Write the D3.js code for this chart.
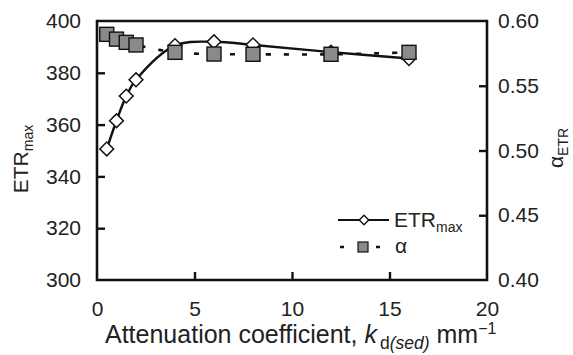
<!DOCTYPE html>
<html>
<head>
<meta charset="utf-8">
<script src="https://cdn.jsdelivr.net/npm/d3@7"></script>
<style>
  body { margin: 0; background: #fff; }
  svg text { font-family: "Liberation Sans", Arial, sans-serif; fill: #222; }
</style>
</head>
<body>
<svg id="chart" width="573" height="355"></svg>
<script>
// attenuation coefficient (x) for every sample
const kd = [0.5, 1, 1.5, 2, 4, 6, 8, 12, 16];
// ETRmax values (left axis)
const etrMax = [350.6, 361.5, 371.0, 377.3, 390.5, 392.0, 390.8, 388.0, 385.5];
// alpha values (right axis)
const alpha = [0.5897, 0.5860, 0.5835, 0.5815, 0.5758, 0.5745, 0.5743, 0.5743, 0.5758];

const xTicks = [0, 5, 10, 15, 20];
const yLeftTicks = [300, 320, 340, 360, 380, 400];
const yRightTicks = [0.40, 0.45, 0.50, 0.55, 0.60];

var svg = d3.select("#chart"),
    margin = {top: 21, right: 86, bottom: 75, left: 97},
    width = +svg.attr("width"),
    height = +svg.attr("height");

var x = d3.scaleLinear().domain([0, 20]).range([margin.left, width - margin.right]);
var yL = d3.scaleLinear().domain([300, 400]).range([height - margin.bottom, margin.top]);
var yR = d3.scaleLinear().domain([0.40, 0.60]).range([height - margin.bottom, margin.top]);

var etrData = kd.map((k, i) => ({k: k, v: etrMax[i]}));
var alphaData = kd.map((k, i) => ({k: k, v: alpha[i]}));

// frame lines (top, left, right, bottom)
var x0 = x(0), x1 = x(20), y0 = yL(300), y1 = yL(400);
svg.append("path")
    .attr("d", `M${x0},${y0}V${y1}H${x1}V${y0}Z`)
    .attr("fill", "none")
    .attr("stroke", "#111")
    .attr("stroke-width", 2.6);

function fmtAxis(g) {
    g.select(".domain").remove();
    g.selectAll(".tick line").attr("stroke", "#111").attr("stroke-width", 2.4);
    g.selectAll(".tick text").attr("font-size", 21).attr("fill", "#222");
}

svg.append("g")
    .attr("transform", "translate(0," + y0 + ")")
    .call(d3.axisBottom(x).tickValues(xTicks).tickSize(-8).tickPadding(21).tickFormat(d3.format("d")))
    .call(fmtAxis)
    .call(g => g.selectAll(".tick").filter(d => d === 0 || d === 20).select("line").remove());

svg.append("g")
    .attr("transform", "translate(" + x0 + ",0)")
    .call(d3.axisLeft(yL).tickValues(yLeftTicks).tickSize(-8).tickPadding(16).tickFormat(d3.format("d")))
    .call(fmtAxis)
    .call(g => g.selectAll(".tick").filter(d => d === 300 || d === 400).select("line").remove());

svg.append("g")
    .attr("transform", "translate(" + x1 + ",0)")
    .call(d3.axisRight(yR).tickValues(yRightTicks).tickSize(-8).tickPadding(11).tickFormat(d3.format(".2f")))
    .call(fmtAxis)
    .call(g => g.selectAll(".tick").filter(d => d === 0.40 || d === 0.60).select("line").remove());

// ETRmax curve
var lineL = d3.line().curve(d3.curveCatmullRom.alpha(0.5)).x(d => x(d.k)).y(d => yL(d.v));
svg.append("path")
    .datum(etrData)
    .attr("d", lineL)
    .attr("fill", "none")
    .attr("stroke", "#111")
    .attr("stroke-width", 2.4);

var diamond = d3.symbol().type(d3.symbolSquare).size(95);
svg.selectAll(".diamond")
    .data(etrData)
    .enter().append("path")
    .attr("class", "diamond")
    .attr("d", diamond)
    .attr("transform", d => `translate(${x(d.k)},${yL(d.v)}) rotate(45)`)
    .attr("fill", "#fff")
    .attr("stroke", "#111")
    .attr("stroke-width", 1.5);

// alpha curve
var lineR = d3.line().curve(d3.curveCatmullRom.alpha(0.5)).x(d => x(d.k)).y(d => yR(d.v));
svg.append("path")
    .datum(alphaData)
    .attr("d", lineR)
    .attr("fill", "none")
    .attr("stroke", "#111")
    .attr("stroke-width", 2.6)
    .attr("stroke-dasharray", "5,13");

svg.selectAll(".sq")
    .data(alphaData)
    .enter().append("rect")
    .attr("class", "sq")
    .attr("x", d => x(d.k) - 7)
    .attr("y", d => yR(d.v) - 7)
    .attr("width", 14)
    .attr("height", 14)
    .attr("fill", "#8a8a8a")
    .attr("stroke", "#111")
    .attr("stroke-width", 1.4);

// legend
var lg = svg.append("g").attr("transform", "translate(338,220)");
lg.append("line").attr("x1", 0).attr("x2", 51).attr("stroke", "#111").attr("stroke-width", 2.2);
lg.append("path").attr("d", d3.symbol().type(d3.symbolSquare).size(45))
    .attr("transform", "translate(26,0) rotate(45)")
    .attr("fill", "#fff").attr("stroke", "#111").attr("stroke-width", 1.4);
var t1 = lg.append("text").attr("x", 56).attr("y", 7).attr("font-size", 21);
t1.append("tspan").text("ETR");
t1.append("tspan").attr("font-size", 14).attr("dy", 5).text("max");

var lg2 = svg.append("g").attr("transform", "translate(338,247)");
lg2.append("line").attr("x1", 2).attr("x2", 48).attr("stroke", "#111").attr("stroke-width", 2.6)
    .attr("stroke-dasharray", "4,14");
lg2.append("rect").attr("x", 20).attr("y", -5).attr("width", 10).attr("height", 10)
    .attr("fill", "#8a8a8a").attr("stroke", "#111").attr("stroke-width", 1.2);
lg2.append("text").attr("x", 57).attr("y", 6).attr("font-size", 21).text("α");

// axis titles
var tl = svg.append("text")
    .attr("transform", "translate(28,159) rotate(-90)")
    .attr("text-anchor", "middle")
    .attr("font-size", 21);
tl.append("tspan").text("ETR");
tl.append("tspan").attr("font-size", 14).attr("dy", 5).text("max");

var tr = svg.append("text")
    .attr("transform", "translate(563,148) rotate(-90)")
    .attr("text-anchor", "middle")
    .attr("font-size", 21);
tr.append("tspan").text("α");
tr.append("tspan").attr("font-size", 14).attr("dy", 5).text("ETR");

var xt = svg.append("text")
    .attr("x", 105)
    .attr("y", 343)
    .attr("font-size", 25);
xt.append("tspan").text("Attenuation coefficient, ");
xt.append("tspan").attr("font-style", "italic").text("k");
xt.append("tspan").attr("font-size", 17.5).attr("dx", 3).attr("dy", 6).text("d");
xt.append("tspan").attr("font-size", 17.5).attr("font-style", "italic").text("(sed)");
xt.append("tspan").attr("dy", -6).text(" mm");
xt.append("tspan").attr("font-size", 16).attr("dy", -9).text("−1");
</script>
</body>
</html>
